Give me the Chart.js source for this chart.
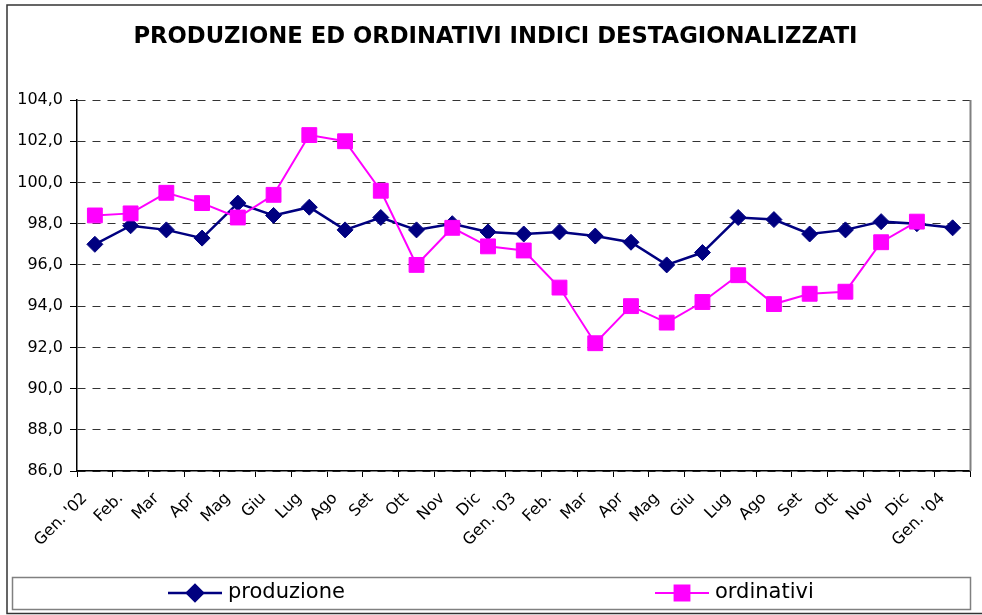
<!DOCTYPE html>
<html>
<head>
<meta charset="utf-8">
<script src="https://cdn.jsdelivr.net/npm/chart.js@4"></script>
<style>
  html, body { margin: 0; padding: 0; background: #fff; }
  #wrap { width: 982px; height: 615px; position: relative; }
</style>
</head>
<body>
<div id="wrap"><canvas id="chart" width="982" height="615"></canvas></div>
<script>
const months = ["Gen. '02", 'Feb.', 'Mar', 'Apr', 'Mag', 'Giu', 'Lug', 'Ago', 'Set', 'Ott', 'Nov', 'Dic',
  "Gen. '03", 'Feb.', 'Mar', 'Apr', 'Mag', 'Giu', 'Lug', 'Ago', 'Set', 'Ott', 'Nov', 'Dic', "Gen. '04"];

const produzione = [97.0, 97.9, 97.7, 97.3, 99.0, 98.4, 98.8, 97.7, 98.3, 97.7, 98.0, 97.6,
  97.5, 97.6, 97.4, 97.1, 96.0, 96.6, 98.3, 98.2, 97.5, 97.7, 98.1, 98.0, 97.8];

const ordinativi = [98.4, 98.5, 99.5, 99.0, 98.3, 99.4, 102.3, 102.0, 99.6, 96.0, 97.8, 96.9,
  96.7, 94.9, 92.2, 94.0, 93.2, 94.2, 95.5, 94.1, 94.6, 94.7, 97.1, 98.1, null];

const yMin = 86, yMax = 104, yStep = 2;

const font = 'DejaVu Sans, Verdana, sans-serif';

// cornice esterna, bordo destro dell'area e legenda con linea + simbolo
const decor = {
  id: 'decor',
  afterDraw(chart) {
    const { ctx, chartArea } = chart;
    ctx.save();
    ctx.strokeStyle = '#333';
    ctx.lineWidth = 1.5;
    ctx.beginPath();
    ctx.moveTo(982, 5); ctx.lineTo(7, 5); ctx.lineTo(7, 613.5); ctx.lineTo(982, 613.5);
    ctx.stroke();

    ctx.strokeStyle = '#808080';
    ctx.lineWidth = 2;
    ctx.beginPath();
    ctx.moveTo(chartArea.right, chartArea.top);
    ctx.lineTo(chartArea.right, chartArea.bottom);
    ctx.stroke();

    ctx.lineWidth = 1.5;
    ctx.strokeRect(12.5, 577.5, 958, 32);

    const xs = [168, 655];
    const cy = 593;
    chart.data.datasets.forEach((ds, i) => {
      const x = xs[i];
      ctx.strokeStyle = ds.borderColor;
      ctx.lineWidth = ds.borderWidth;
      ctx.beginPath();
      ctx.moveTo(x, cy); ctx.lineTo(x + 54, cy);
      ctx.stroke();
      Chart.helpers.drawPoint(ctx, {
        pointStyle: ds.pointStyle, radius: ds.pointRadius, borderWidth: 1, rotation: 0
      }, x + 27, cy);
      ctx.fillStyle = ds.backgroundColor;
      ctx.fill();
      ctx.fillStyle = '#000';
      ctx.font = '21px ' + font;
      ctx.textBaseline = 'middle';
      ctx.textAlign = 'left';
      ctx.fillText(ds.label, x + 60, cy);
    });
    ctx.restore();
  }
};

new Chart(document.getElementById('chart'), {
  type: 'line',
  data: {
    labels: months,
    datasets: [
      {
        label: 'produzione',
        data: produzione,
        borderColor: '#000080',
        backgroundColor: '#000080',
        borderWidth: 2.5,
        pointStyle: 'rectRot',
        pointRadius: 8,
        pointBorderWidth: 1,
        tension: 0,
        order: 1
      },
      {
        label: 'ordinativi',
        data: ordinativi,
        borderColor: '#FF00FF',
        backgroundColor: '#FF00FF',
        borderWidth: 2,
        pointStyle: 'rect',
        pointRadius: 10.5,
        pointBorderWidth: 1,
        tension: 0,
        order: 0
      }
    ]
  },
  options: {
    responsive: false,
    animation: false,
    layout: { padding: { left: 14, right: 5, top: 0, bottom: 0 } },
    plugins: {
      legend: { display: false },
      tooltip: { enabled: false },
      title: {
        display: true,
        text: 'PRODUZIONE ED ORDINATIVI INDICI DESTAGIONALIZZATI',
        color: '#000',
        font: { family: font, size: 22.7, weight: 'bold' },
        padding: { top: 23, bottom: 49.8 }
      }
    },
    scales: {
      x: {
        offset: true,
        afterFit(scale) { scale.height = 144; },
        grid: { offset: true, drawOnChartArea: false, tickLength: 6, tickColor: '#000' },
        border: { color: '#000', width: 1.5 },
        ticks: {
          autoSkip: false, minRotation: 45, maxRotation: 45, padding: 12, labelOffset: -10,
          color: '#000', font: { family: font, size: 16 }
        }
      },
      y: {
        min: yMin, max: yMax,
        afterFit(scale) { scale.width = 63; },
        grid: { color: '#333', lineWidth: 1, tickLength: 7, tickColor: '#000' },
        border: { color: '#000', width: 1.5, dash: [8, 7] },
        ticks: {
          stepSize: yStep, padding: 7, color: '#000',
          font: { family: font, size: 16 },
          callback: (v) => v.toFixed(1).replace('.', ',')
        }
      }
    }
  },
  plugins: [decor]
});
</script>
</body>
</html>
